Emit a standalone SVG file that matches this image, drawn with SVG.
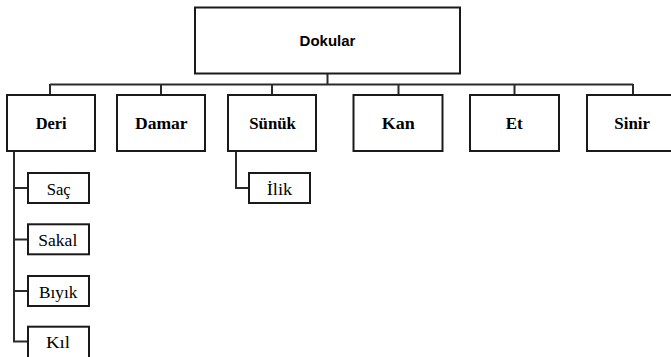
<svg xmlns="http://www.w3.org/2000/svg" width="671" height="357" viewBox="0 0 671 357">
<style>
.box{fill:#fff;stroke:#1a1a1a;stroke-width:2}
.con{fill:none;stroke:#2a2a2a;stroke-width:2}
.root{font-weight:bold;font-size:15px;fill:#000;text-anchor:middle}
.l1{font-weight:bold;font-size:17px;fill:#000;text-anchor:middle}
.l2{font-size:17.5px;fill:#000;text-anchor:middle}
</style>
<rect width="671" height="357" fill="#fff"/>
<g id="connectors" class="con">
<path d="M327.5 73V84.5M50 84.5H633M50 84V95M161 84V95M272 84V95M398.5 84V95M514.5 84V95M633 84V95"/>
<path d="M14 151V341.5H28M14 188H28M14 239.5H28M14 291H28"/>
<path d="M236 151V188H249"/>
</g>
<g id="dokular" font-family="Liberation Sans, Arial, sans-serif"><rect class="box" x="195" y="7.5" width="265" height="66"/><text class="root" x="327.5" y="46">Dokular</text></g>
<g id="nodes" font-family="Liberation Serif, Times New Roman, serif">
<g id="deri"><rect class="box" x="7" y="95" width="88" height="56"/><text class="l1" x="51.2" y="128.5" textLength="31" lengthAdjust="spacingAndGlyphs">Deri</text></g>
<g id="damar"><rect class="box" x="117" y="95" width="88" height="56"/><text class="l1" x="161.3" y="128.5" textLength="52.7" lengthAdjust="spacingAndGlyphs">Damar</text></g>
<g id="sunuk"><rect class="box" x="228" y="95" width="88" height="56"/><text class="l1" x="272.6" y="128.5" textLength="46.7" lengthAdjust="spacingAndGlyphs">Sünük</text></g>
<g id="kan"><rect class="box" x="353.5" y="95" width="89" height="56"/><text class="l1" x="398.2" y="128.5" textLength="33" lengthAdjust="spacingAndGlyphs">Kan</text></g>
<g id="et"><rect class="box" x="470" y="95" width="89" height="56"/><text class="l1" x="514.2" y="128.5" textLength="17" lengthAdjust="spacingAndGlyphs">Et</text></g>
<g id="sinir"><rect class="box" x="587" y="95" width="90" height="56"/><text class="l1" x="632.2" y="128.5" textLength="35.7" lengthAdjust="spacingAndGlyphs">Sinir</text></g>
<g id="sac"><rect class="box" x="28" y="173" width="61" height="30"/><text class="l2" x="58.7" y="194.7" textLength="24" lengthAdjust="spacingAndGlyphs">Saç</text></g>
<g id="sakal"><rect class="box" x="28" y="224.3" width="61" height="30"/><text class="l2" x="57.8" y="246" textLength="39" lengthAdjust="spacingAndGlyphs">Sakal</text></g>
<g id="biyik"><rect class="box" x="28" y="276" width="61" height="30"/><text class="l2" x="58.2" y="297.7" textLength="38.3" lengthAdjust="spacingAndGlyphs">Bıyık</text></g>
<g id="kil"><rect class="box" x="28" y="326.7" width="61" height="32"/><text class="l2" x="58" y="348.4" textLength="24" lengthAdjust="spacingAndGlyphs">Kıl</text></g>
<g id="ilik"><rect class="box" x="249" y="173" width="61" height="30"/><text class="l2" x="279.5" y="194.7" textLength="25.7" lengthAdjust="spacingAndGlyphs">İlik</text></g>
</g>
</svg>
